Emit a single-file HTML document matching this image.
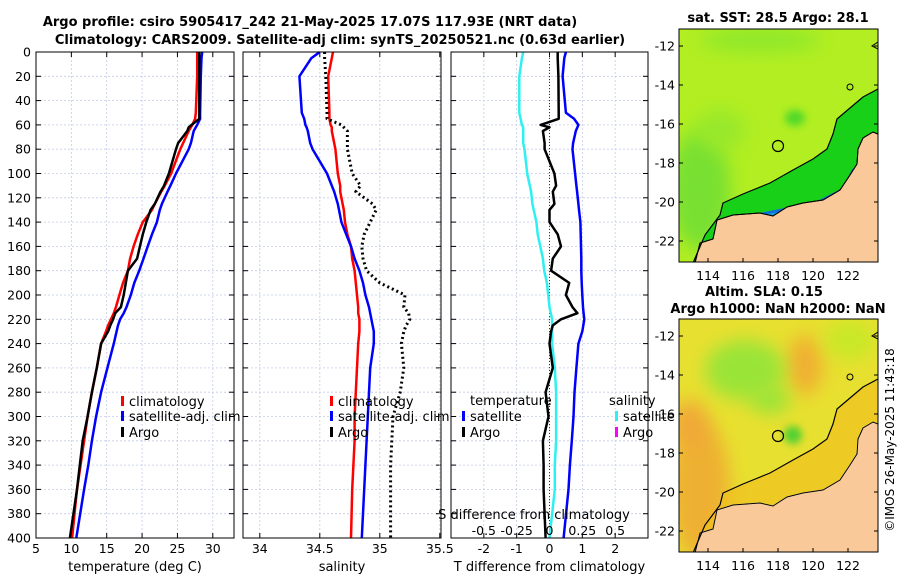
<!DOCTYPE html>
<html><head><meta charset="utf-8"><style>
body{margin:0;background:#fff}
svg{display:block;font-family:"DejaVu Sans","Liberation Sans",sans-serif}
</style></head><body>
<svg id="s" width="900" height="580" viewBox="0 0 900 580">
<defs>
<filter id="bl" x="-50%" y="-50%" width="200%" height="200%"><feGaussianBlur stdDeviation="9"/></filter>
<filter id="bl2" x="-50%" y="-50%" width="200%" height="200%"><feGaussianBlur stdDeviation="4"/></filter>
<clipPath id="mc"><rect x="679" y="29" width="199" height="233"/></clipPath>
<clipPath id="mc2"><rect x="679" y="319" width="199" height="233"/></clipPath>
</defs>
<text x="310" y="26" text-anchor="middle" font-size="13" font-weight="bold">Argo profile: csiro 5905417_242 21-May-2025 17.07S 117.93E (NRT data)</text>
<text x="340" y="44" text-anchor="middle" font-size="13" font-weight="bold">Climatology: CARS2009. Satellite-adj clim: synTS_20250521.nc (0.63d earlier)</text>
<g id="panels"></g>
<g id="maps"></g>
<text transform="translate(894,440) rotate(-90)" text-anchor="middle" font-size="12">©IMOS 26-May-2025 11:43:18</text>
</svg>
<script>
// ----- data -----
const depths    = [0,5,20,50,55,60,62,65,75,80,100,110,115,125,130,140,150,160,170,180,190,200,210,215,220,225,230,240,260,280,300,320,340,360,400];
const tempClim  = [27.8,27.8,27.8,27.6,27.5,27.1,26.9,26.6,25.8,25.4,24.1,23.2,22.7,21.8,21.4,20.1,19.4,18.8,18.3,18.0,17.3,16.8,16.3,16.0,15.6,15.2,14.9,14.2,13.6,12.9,12.3,11.8,11.3,10.8,10.1];
const tempSat   = [28.5,28.4,28.3,28.2,28.2,27.8,27.6,27.3,26.9,26.6,24.8,24.0,23.6,22.8,22.5,22.1,21.4,20.8,20.2,19.6,18.9,18.4,17.8,17.4,16.9,16.6,16.4,16.0,15.1,14.2,13.5,12.9,12.4,11.8,10.7];
const tempArgo  = [28.1,28.1,28.1,28.1,28.1,27.0,26.6,26.4,25.1,24.8,23.8,23.1,22.6,21.8,21.2,20.6,20.1,19.7,19.3,18.0,17.7,17.4,17.0,16.2,15.9,15.5,15.2,14.2,13.6,12.9,12.3,11.6,11.2,10.8,9.8];
const salClim   = [34.61,34.6,34.57,34.58,34.58,34.59,34.6,34.6,34.62,34.63,34.65,34.67,34.67,34.69,34.7,34.71,34.73,34.76,34.77,34.79,34.8,34.81,34.82,34.82,34.83,34.83,34.83,34.82,34.81,34.8,34.79,34.79,34.78,34.77,34.76];
const salSat    = [34.5,34.43,34.33,34.35,34.37,34.38,34.39,34.4,34.42,34.44,34.56,34.6,34.62,34.65,34.66,34.68,34.72,34.76,34.79,34.83,34.86,34.88,34.91,34.92,34.93,34.94,34.95,34.95,34.92,34.91,34.9,34.89,34.88,34.87,34.85];
const salArgo   = [34.54,34.54,34.55,34.56,34.56,34.68,34.7,34.73,34.73,34.73,34.77,34.84,34.8,34.94,34.97,34.92,34.87,34.85,34.86,34.89,35.0,35.21,35.2,35.24,35.25,35.22,35.2,35.18,35.2,35.17,35.11,35.1,35.09,35.09,35.09];
const tdiffSat  = [0.5,0.45,0.4,0.5,0.75,0.88,0.85,0.8,0.72,0.7,0.78,0.82,0.84,0.88,0.9,0.94,0.95,0.96,0.97,0.97,0.98,1.0,1.02,1.04,1.06,1.03,1.0,0.88,0.82,0.76,0.73,0.68,0.62,0.58,0.43];
const sdiffSat  = [-0.2,-0.21,-0.23,-0.23,-0.22,-0.21,-0.2,-0.2,-0.2,-0.19,-0.17,-0.15,-0.14,-0.13,-0.12,-0.1,-0.09,-0.07,-0.05,-0.04,-0.02,-0.01,0.0,0.01,0.02,0.02,0.02,0.02,0.04,0.05,0.05,0.05,0.04,0.04,0.0];
const tdiffArgo = [0.25,0.25,0.27,0.28,0.28,-0.27,0.0,-0.2,-0.15,-0.15,0.15,0.2,0.1,0.15,0.0,0.0,0.25,0.35,0.1,0.05,0.6,0.5,0.7,0.85,0.35,0.1,0.05,0.0,0.1,-0.12,-0.03,-0.2,-0.18,-0.18,-0.12];
const depthTicks = [0,20,40,60,80,100,120,140,160,180,200,220,240,260,280,300,320,340,360,380,400];
const tempTicks = [5,10,15,20,25,30];
const salTicks  = [34,34.5,35,35.5];
const tdTicks   = [-2,-1,0,1,2];
const sdTicks   = [-0.5,-0.25,0,0.25,0.5];
const sdTickLabels = ["-0.5","-0.25","0","0.25","0.5"];

const NS="http://www.w3.org/2000/svg";
const root=document.getElementById('panels');
function el(tag,attrs,parent,txt){const e=document.createElementNS(NS,tag);for(const k in attrs)e.setAttribute(k,attrs[k]);if(txt!==undefined)e.textContent=txt;(parent||root).appendChild(e);return e;}
const Y0=52,Y1=538;
const yD=d=>Y0+(Y1-Y0)*d/400;
const panels=[
 {x0:36,x1:234,min:5,max:33,ticks:tempTicks,lab:"temperature (deg C)",name:"temperature-panel"},
 {x0:243,x1:441,min:33.86,max:35.51,ticks:salTicks,lab:"salinity",name:"salinity-panel"},
 {x0:451,x1:648,min:-3,max:3,ticks:tdTicks,lab:"T difference from climatology",name:"difference-panel"}
];
panels.forEach((p,i)=>{
  p.sx=v=>p.x0+(p.x1-p.x0)*(v-p.min)/(p.max-p.min);
  const g=el('g',{});
  
  
  p.g=g;
  depthTicks.forEach(d=>{
    const l=el('line',{x1:p.x0,x2:p.x1,y1:yD(d),y2:yD(d),stroke:'#c4cbe8','stroke-width':0.8,'stroke-dasharray':'2,2'},g);
    
    
    el('line',{x1:p.x0,x2:p.x0+5,y1:yD(d),y2:yD(d),stroke:'#000'},g);
    el('line',{x1:p.x1-5,x2:p.x1,y1:yD(d),y2:yD(d),stroke:'#000'},g);
    if(i===0){const t=el('text',{x:p.x0-5,y:yD(d)+4.5,'text-anchor':'end','font-size':12.5},g,String(d));
      
      }
  });
  p.ticks.forEach(v=>{
    const x=p.sx(v);
    el('line',{x1:x,x2:x,y1:Y0,y2:Y1,stroke:'#c4cbe8','stroke-width':0.8,'stroke-dasharray':'2,2'},g);
    el('line',{x1:x,x2:x,y1:Y1,y2:Y1-5,stroke:'#000'},g);
    el('line',{x1:x,x2:x,y1:Y0,y2:Y0+5,stroke:'#000'},g);
    const t=el('text',{x:x,y:553,'text-anchor':'middle','font-size':12.5},g,String(v));
    
    
  });
  const xl=el('text',{x:(p.x0+p.x1)/2,y:571,'text-anchor':'middle','font-size':13},g,p.lab);
  
  
});
function line(p,xs,col,w,dash,name){
  const pts=depths.map((d,k)=>p.sx(xs[k]).toFixed(1)+','+yD(d).toFixed(1)).join(' ');
  const a={points:pts,fill:'none',stroke:col,'stroke-width':w,'stroke-linejoin':'round'};
  if(dash)a['stroke-dasharray']=dash;
  const e=el('polyline',a,p.g);
  
  
}
const [P1,P2,P3]=panels;
line(P1,tempClim,'#f00',2.5,null,'temp-climatology-line');
line(P1,tempSat,'#00f',2.5,null,'temp-satellite-line');
line(P1,tempArgo,'#000',2.5,null,'temp-argo-line');
line(P2,salClim,'#f00',2.5,null,'sal-climatology-line');
line(P2,salSat,'#00f',2.5,null,'sal-satellite-line');
line(P2,salArgo,'#000',3,'2,3','sal-argo-line');
el('line',{x1:P3.sx(0),x2:P3.sx(0),y1:Y0,y2:Y1,stroke:'#333','stroke-width':1,'stroke-dasharray':'1,2'},P3.g);
line(P3,sdiffSat.map(v=>v*4),'#2ff0f0',2.5,null,'sal-diff-satellite-line');
line(P3,tdiffSat,'#00f',2.5,null,'temp-diff-satellite-line');
line(P3,tdiffArgo,'#000',2.5,null,'temp-diff-argo-line');
const sl=el('text',{x:534,y:519,'text-anchor':'middle','font-size':13},P3.g,'S difference from climatology');


sdTicks.forEach((v,k)=>{const t=el('text',{x:P3.sx(v*4),y:535,'text-anchor':'middle','font-size':12.5},P3.g,sdTickLabels[k]);
  
  });
panels.forEach(p=>el('rect',{x:p.x0,y:Y0,width:p.x1-p.x0,height:Y1-Y0,fill:'none',stroke:'#000','stroke-width':1},p.g));
function legend(g,x,y,col,txt,name){
  const lg=el('g',{},g);
  
  
  el('rect',{x:x,y:y-9,width:3,height:10,fill:col},lg);
  el('text',{x:x+8,y:y+1,'font-size':13},lg,txt);
}
legend(P1.g,121,405,'#f00','climatology','legend-climatology');
legend(P1.g,121,420,'#00f','satellite-adj. clim','legend-satellite');
legend(P1.g,121,436,'#000','Argo','legend-argo');
legend(P2.g,330,405,'#f00','climatology','legend-climatology');
legend(P2.g,330,420,'#00f','satellite-adj. clim','legend-satellite');
legend(P2.g,330,436,'#000','Argo','legend-argo');
el('text',{x:470,y:405,'font-size':13},P3.g,'temperature');
legend(P3.g,462,420,'#00f','satellite','legend-temp-satellite');
legend(P3.g,462,436,'#000','Argo','legend-temp-argo');
el('text',{x:609,y:405,'font-size':13},P3.g,'salinity');
legend(P3.g,615,420,'#2ff0f0','satellite','legend-sal-satellite');
legend(P3.g,615,436,'#f0f','Argo','legend-sal-argo');

// ----- maps -----
const mg=document.getElementById('maps');
const lonTicks=[114,116,118,120,122], latTicks=[-12,-14,-16,-18,-20,-22];
const lx=l=>708+(l-114)*17.5, ly=(la,off)=>off+46+(-12-la)*19.5;
const land="695,263 700,243 713,239 717,220 733,215 760,213 773,216 787,207 803,203 823,200 840,190 850,175 857,164 858,149 863,138 873,132 878,134 878,263";
const contour="693,263 705,235 720,215 723,203 743,194 770,183 793,170 813,159 827,149 833,134 837,119 850,108 863,97 878,89";
const shelf="693,263 705,235 720,215 723,203 743,194 770,183 793,170 813,159 827,149 833,134 837,119 850,108 863,97 878,89 878,134 873,132 863,138 858,149 857,164 850,175 840,190 823,200 803,203 787,207 773,216 760,213 733,215 717,220 713,239 700,243 695,263";
function map(off,type,title,title2){
  const g=el('g',{},mg);
  
  
  const c=el('g',{'clip-path':off?'url(#mc2)':'url(#mc)'},g);
  const t=el('g',{transform:`translate(0,${off})`},c);
  if(type==='sst'){
    el('rect',{x:679,y:29,width:199,height:233,fill:'#b2ee22'},t);
    el('ellipse',{cx:700,cy:190,rx:30,ry:60,fill:'#78e030',filter:'url(#bl)'},t);
    el('ellipse',{cx:760,cy:40,rx:60,ry:12,fill:'#8ee82a',filter:'url(#bl)'},t);
    el('ellipse',{cx:795,cy:118,rx:10,ry:8,fill:'#50d82a',filter:'url(#bl2)'},t);
    el('ellipse',{cx:720,cy:130,rx:25,ry:20,fill:'#98e82a',filter:'url(#bl)'},t);
    el('polygon',{points:shelf,fill:'#18d018'},t);
    el('polyline',{points:"700,262 706,248 718,240 735,220 760,216 790,210 820,203 845,190 855,170",fill:'none',stroke:'#1070e0','stroke-width':6},t);
    el('polyline',{points:"703,258 709,246 735,222 790,212",fill:'none',stroke:'#18a0d0','stroke-width':4},t);
  } else {
    el('rect',{x:679,y:29,width:199,height:233,fill:'#e8e030'},t);
    el('ellipse',{cx:700,cy:200,rx:30,ry:70,fill:'#eeb030',filter:'url(#bl)'},t);
    el('ellipse',{cx:690,cy:135,rx:18,ry:25,fill:'#f0a838',filter:'url(#bl)'},t);
    el('ellipse',{cx:805,cy:75,rx:18,ry:30,fill:'#f0b030',filter:'url(#bl)'},t);
    el('ellipse',{cx:745,cy:80,rx:40,ry:30,fill:'#9ae438',filter:'url(#bl)'},t);
    el('ellipse',{cx:770,cy:110,rx:20,ry:14,fill:'#9ae438',filter:'url(#bl)'},t);
    el('ellipse',{cx:793,cy:145,rx:9,ry:9,fill:'#50d030',filter:'url(#bl2)'},t);
    el('ellipse',{cx:850,cy:50,rx:25,ry:20,fill:'#c8e828',filter:'url(#bl)'},t);
    el('polygon',{points:shelf,fill:'#f0c020',opacity:0.7},t);
  }
  el('polygon',{points:land,fill:'#f9c99a',stroke:type==='sst'?'#000':'#fff','stroke-width':1},t);
  el('polyline',{points:land.split(' ').slice(0,17).join(' '),fill:'none',stroke:'#000','stroke-width':1},t);
  el('polyline',{points:contour,fill:'none',stroke:'#000','stroke-width':1.2},t);
  el('ellipse',{cx:850,cy:87,rx:3,ry:3,fill:'none',stroke:'#000'},t);
  el('polyline',{points:"878,42 872,46 878,49",fill:'none',stroke:'#000'},t);
  const ci=el('circle',{cx:778,cy:146,r:5.5,fill:'none',stroke:'#000','stroke-width':1.2},t);
  
  
  el('rect',{x:679,y:29+off,width:199,height:233,fill:'none',stroke:'#000'},g);
  lonTicks.forEach(l=>{el('line',{x1:lx(l),x2:lx(l),y1:262+off,y2:258+off,stroke:'#000'},g);
    el('text',{x:lx(l),y:280+off,'text-anchor':'middle','font-size':12.5},g,String(l));});
  latTicks.forEach(la=>{const y=ly(la,off);
    el('line',{x1:679,x2:683,y1:y,y2:y,stroke:'#000'},g);
    el('line',{x1:874,x2:878,y1:y,y2:y,stroke:'#000'},g);
    el('text',{x:675,y:y+4.5,'text-anchor':'end','font-size':12.5},g,String(la));});
  if(title2){el('text',{x:764,y:296,'text-anchor':'middle','font-size':13,'font-weight':'bold'},g,title);
    el('text',{x:778,y:313,'text-anchor':'middle','font-size':13,'font-weight':'bold'},g,title2);}
  else el('text',{x:778,y:22,'text-anchor':'middle','font-size':13,'font-weight':'bold'},g,title);
}
map(0,'sst','sat. SST: 28.5 Argo: 28.1');
map(290,'sla','Altim. SLA: 0.15','Argo h1000: NaN h2000: NaN');
</script>
</body></html>
